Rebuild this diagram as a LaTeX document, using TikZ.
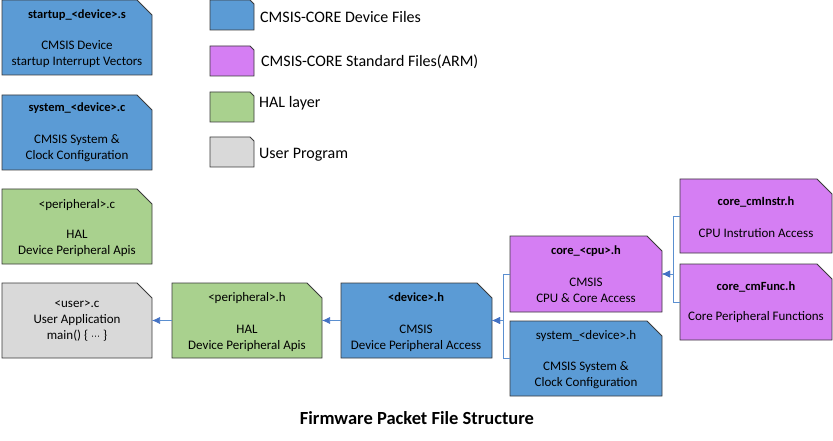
\documentclass[tikz,border=0pt]{standalone}
\usepackage{fontspec}
\setmainfont{Carlito}
\newfontfamily\symfont{DejaVu Sans}
\usetikzlibrary{arrows.meta}
\definecolor{cblue}{HTML}{5B9BD5}
\definecolor{cmag}{HTML}{D57EF3}
\definecolor{cgreen}{HTML}{A9D18E}
\definecolor{cgray}{HTML}{D9D9D9}
\definecolor{cbord}{HTML}{3A3A3A}
\definecolor{carrow}{HTML}{4472C4}
\definecolor{cline}{HTML}{5B8FD0}
\newcommand{\filebox}[7]{% name, x, y, w, h, fill, cut
  \node[draw=none, minimum width=#4pt, minimum height=#5pt, anchor=north west, inner sep=0pt, outer sep=0pt] (#1) at (#2,#3) {};
  \filldraw[fill=#6, draw=cbord, line width=0.9pt, line join=miter]
    (#1.south west) -- (#1.north west) -- ([xshift=-#7pt]#1.north east)
    -- ([yshift=-#7pt]#1.north east) -- (#1.south east) -- cycle;
}
\tikzset{
  boxtext/.style={font=\fontsize{13}{16}\selectfont, align=center, inner sep=0pt, text=black},
  boxtitle/.style={font=\fontsize{12.5}{16}\selectfont\bfseries, inner sep=0pt, text=black},
  legtext/.style={font=\fontsize{16}{18}\selectfont, anchor=west, inner sep=0pt, text=black},
  conn/.style={draw=cline, line width=0.7pt, -{Latex[length=8pt,width=7pt,fill=carrow,color=carrow]}},
}
\begin{document}
\begin{tikzpicture}[x=1pt,y=-1pt]
\useasboundingbox (0,0) rectangle (833,441);
% left column
\filebox{startup}{2}{0}{150}{75}{cblue}{15}
\node[boxtitle] (startupT) at (77,15) {startup\_<device>.s};
\node[boxtext] (startupB) at (77,54) {CMSIS Device\\startup Interrupt Vectors};
\filebox{sysc}{2}{95}{150}{75}{cblue}{15}
\node[boxtitle] (syscT) at (77,108) {system\_<device>.c};
\node[boxtext] (syscB) at (77,148) {CMSIS System \&\\Clock Configuration};
\filebox{perc}{2}{189}{150}{75}{cgreen}{15}
\node[boxtext] (percT) at (77,205) {<peripheral>.c};
\node[boxtext] (percB) at (77,243) {HAL\\Device Peripheral Apis};
\filebox{user}{2}{283}{150}{75}{cgray}{15}
\node[boxtext] (userB) at (77,321) {<user>.c\\User Application\\main() \{ {\symfont\fontsize{9}{16}\selectfont ⋯} \}};
% legend
\filebox{legA}{210}{0}{44}{30}{cblue}{4}
\node[legtext] (legAT) at (260,17) {CMSIS-CORE Device Files};
\filebox{legB}{210}{46}{44}{30}{cmag}{4}
\node[legtext] (legBT) at (261,62) {CMSIS-CORE Standard Files(ARM)};
\filebox{legC}{210}{92}{44}{30}{cgreen}{4}
\node[legtext] (legCT) at (259,103) {HAL layer};
\filebox{legD}{210}{137}{44}{30}{cgray}{4}
\node[legtext] (legDT) at (259,155) {User Program};
% chain
\filebox{perh}{172}{283}{150}{75}{cgreen}{15}
\node[boxtext] (perhT) at (247,298) {<peripheral>.h};
\node[boxtext] (perhB) at (247,338) {HAL\\Device Peripheral Apis};
\filebox{devh}{341}{283}{151}{75}{cblue}{15}
\node[boxtitle] (devhT) at (416,297) {<device>.h};
\node[boxtext] (devhB) at (416,338) {CMSIS\\Device Peripheral Access};
\filebox{cpu}{510}{236}{152}{76}{cmag}{15}
\node[boxtitle] (cpuT) at (586,251) {core\_<cpu>.h};
\node[boxtext] (cpuB) at (586,290) {CMSIS\\CPU \& Core Access};
\filebox{sysh}{510}{321}{152}{75}{cblue}{15}
\node[boxtext] (syshT) at (586,336) {system\_<device>.h};
\node[boxtext] (syshB) at (586,375) {CMSIS System \&\\Clock Configuration};
\filebox{instr}{680}{179}{152}{74}{cmag}{15}
\node[boxtitle] (instrT) at (756,202) {core\_cmInstr.h};
\node[boxtext] (instrB) at (756,233) {CPU Instrution Access};
\filebox{func}{680}{264}{152}{76}{cmag}{15}
\node[boxtitle] (funcT) at (756,287) {core\_cmFunc.h};
\node[boxtext] (funcB) at (756,317) {Core Peripheral Functions};
% connectors
\draw[conn] (instr.west) -- ++(-7,0) |- (cpu.east);
\draw[conn] (func.west) -- ++(-7,0) |- (cpu.east);
\draw[conn] (cpu.west) -- ++(-7,0) |- (devh.east);
\draw[conn] (sysh.west) -- ++(-7,0) |- (devh.east);
\draw[conn] (devh.west) -- (perh.east);
\draw[conn] (perh.west) -- (user.east);
% title
\node[font=\fontsize{18.5}{21}\selectfont\bfseries, inner sep=0pt] (title) at (417,418) {Firmware Packet File Structure};
\end{tikzpicture}
\end{document}
